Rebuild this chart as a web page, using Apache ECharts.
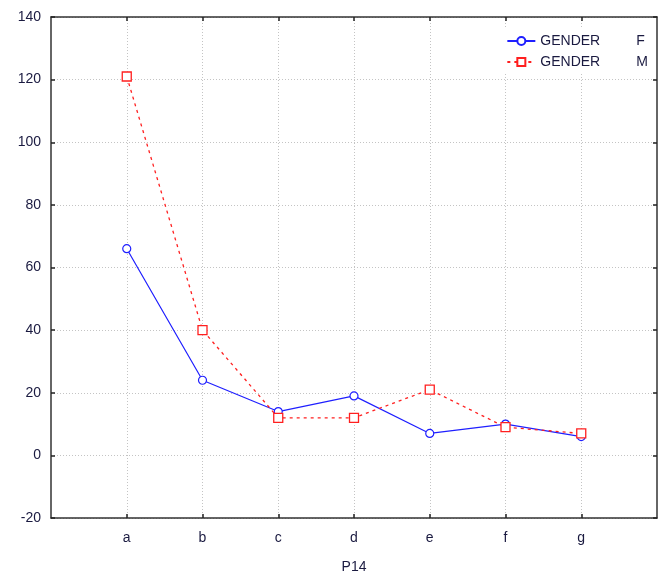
<!DOCTYPE html>
<html><head><meta charset="utf-8">
<script src="https://cdn.jsdelivr.net/npm/echarts@6/dist/echarts.min.js"></script>
<style>html,body{margin:0;padding:0;background:#fff}#c{width:665px;height:576px}</style>
</head><body><div id="c"></div>
<script>
var categories = ['', 'a', 'b', 'c', 'd', 'e', 'f', 'g', ''];
var seriesF = [null, 66, 24, 14, 19, 7, 10, 6, null];
var seriesM = [null, 121, 40, 12, 12, 21, 9, 7, null];
var yTicks = { min: -20, max: 140, interval: 20 };
var xTitle = 'P14';
var nameF = 'GENDER F';
var nameM = 'GENDER M';

var chart = echarts.init(document.getElementById('c'), null, {renderer: 'canvas'});
var txt = '#1a1a40';
var font = 'Liberation Sans';
var axisLine = {show: true, onZero: false, lineStyle: {color: '#333', width: 1.5}};
var split = {show: true, lineStyle: {color: '#c4c4c4', type: [1, 2], width: 1}};
var xBase = {
  type: 'category', data: categories, boundaryGap: false,
  axisLine: axisLine,
  axisTick: {show: true, inside: true, length: 4, lineStyle: {color: '#222', width: 1.5},
    interval: function (i) { return i > 0 && i < categories.length - 1; }},
  splitLine: {show: true, lineStyle: split.lineStyle,
    interval: function (i) { return i > 0 && i < categories.length - 1; }}
};
var yBase = {
  type: 'value', min: yTicks.min, max: yTicks.max, interval: yTicks.interval,
  axisLine: axisLine,
  axisTick: {show: true, inside: true, length: 4, lineStyle: {color: '#222', width: 1.5}},
  splitLine: split
};
chart.setOption({
  animation: false,
  backgroundColor: '#fff',
  grid: {left: 51, right: 8, top: 17, bottom: 58, containLabel: false, outerBoundsMode: 'none'},
  xAxis: [
    Object.assign({}, xBase, {position: 'bottom',
      name: xTitle, nameLocation: 'middle', nameGap: 42,
      nameTextStyle: {color: txt, fontFamily: font, fontSize: 14},
      axisLabel: {color: txt, fontFamily: font, fontSize: 14, margin: 13}}),
    Object.assign({}, xBase, {position: 'top', axisLabel: {show: false}, splitLine: {show: false}})
  ],
  yAxis: [
    Object.assign({}, yBase, {position: 'left',
      axisLabel: {color: txt, fontFamily: font, fontSize: 14, margin: 10}}),
    Object.assign({}, yBase, {position: 'right', axisLabel: {show: false}, splitLine: {show: false}})
  ],
  legend: {
    right: 12, top: 29, orient: 'vertical', itemGap: 7,
    itemWidth: 28, itemHeight: 10,
    backgroundColor: '#fff',
    textStyle: {fontFamily: font, fontSize: 14, color: txt,
      rich: {a: {width: 96, fontFamily: font, fontSize: 14, color: txt}, b: {fontFamily: font, fontSize: 14, color: txt}}},
    formatter: function (n) { var p = n.split(' '); return '{a|' + p[0] + '}{b|' + p[1] + '}'; },
    data: [nameF, nameM]
  },
  series: [
    {name: nameF, type: 'line', data: seriesF, xAxisIndex: 0, yAxisIndex: 0,
      symbol: 'circle', symbolSize: 8, connectNulls: false,
      lineStyle: {color: '#1f1fff', width: 1.2},
      itemStyle: {color: '#fff', borderColor: '#1f1fff', borderWidth: 1.2}, z: 3},
    {name: nameM, type: 'line', data: seriesM, xAxisIndex: 0, yAxisIndex: 0,
      symbol: 'rect', symbolSize: 9, connectNulls: false,
      lineStyle: {color: '#ff1f1f', width: 1.3, type: [3, 4]},
      itemStyle: {color: '#fff', borderColor: '#ff1f1f', borderWidth: 1.3}, z: 4}
  ]
});
</script></body></html>
